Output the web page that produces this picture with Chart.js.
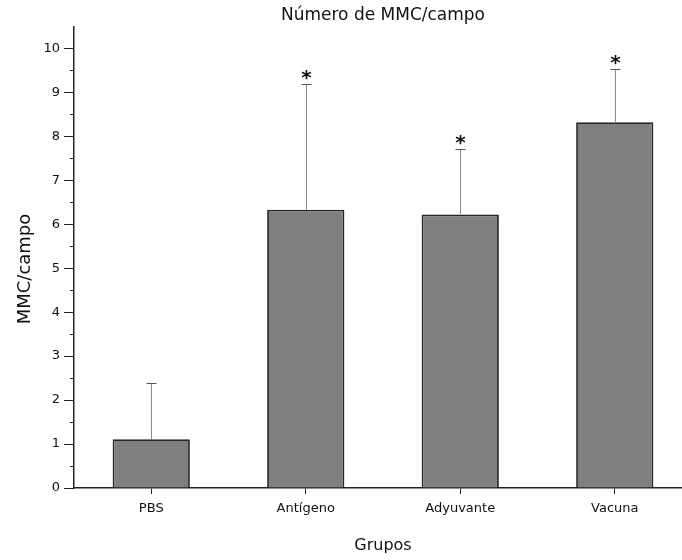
<!DOCTYPE html>
<html>
<head>
<meta charset="utf-8">
<script src="https://cdn.jsdelivr.net/npm/chart.js@4"></script>
<style>
  body { margin: 0; background: #fff; overflow: hidden; }
</style>
</head>
<body>
<canvas id="chart" width="700" height="560"></canvas>
<script>
// data
const groups = ["PBS", "Antígeno", "Adyuvante", "Vacuna"];
const means = [1.11, 6.33, 6.22, 8.32];
const errUp = [1.27, 2.86, 1.48, 1.2];
const signif = [false, true, true, true];
const yTicks = [0, 1, 2, 3, 4, 5, 6, 7, 8, 9, 10];

const FONT = "'DejaVu Sans', sans-serif";
let canvasElement = document.getElementById("chart");

// error bars, asterisks, minor ticks and the y title
const extras = {
  id: "extras",
  afterDatasetsDraw(chart) {
    const ctx = chart.ctx;
    const x = chart.scales.x;
    const y = chart.scales.y;
    ctx.save();
    means.forEach((m, i) => {
      const cx = Math.round(x.getPixelForValue(i)) + 0.5;
      const y0 = y.getPixelForValue(m);
      const y1 = Math.round(y.getPixelForValue(m + errUp[i])) + 0.5;
      ctx.strokeStyle = "#8c8c8c";
      ctx.lineWidth = 1;
      ctx.beginPath();
      ctx.moveTo(cx, y0);
      ctx.lineTo(cx, y1);
      ctx.stroke();
      ctx.strokeStyle = "#555";
      ctx.beginPath();
      ctx.moveTo(cx - 5, y1);
      ctx.lineTo(cx + 5, y1);
      ctx.stroke();
      if (signif[i]) {
        ctx.fillStyle = "#111";
        ctx.font = "bold 20px " + FONT;
        ctx.textAlign = "center";
        ctx.textBaseline = "alphabetic";
        ctx.fillText("*", cx, y1 - 1);
      }
    });
    // minor ticks at half units
    ctx.strokeStyle = "#222";
    ctx.lineWidth = 1;
    for (let v = 0.5; v < 10.5; v += 1) {
      const py = Math.round(y.getPixelForValue(v)) + 0.5;
      ctx.beginPath();
      ctx.moveTo(chart.chartArea.left - 4, py);
      ctx.lineTo(chart.chartArea.left, py);
      ctx.stroke();
    }
    ctx.fillStyle = "#111";
    ctx.textAlign = "center";
    ctx.textBaseline = "middle";
    ctx.translate(25, 269);
    ctx.rotate(-Math.PI / 2);
    ctx.font = "18px " + FONT;
    ctx.fillText("MMC/campo", 0, 0);
    ctx.restore();
  },
};

let barChartCfg = {
  type: "bar",
  data: {
    labels: groups,
    datasets: [
      {
        data: means,
        backgroundColor: "#7f7f7f",
        borderColor: "#262626",
        borderWidth: 1.8,
        barPercentage: 0.5,
        categoryPercentage: 1,
      },
    ],
  },
  options: {
    responsive: false,
    animation: false,
    layout: { padding: { top: 0, right: 8, left: 0, bottom: 0 } },
    plugins: {
      legend: { display: false },
      tooltip: { enabled: false },
      title: {
        display: true,
        fullSize: false,
        text: "Número de MMC/campo",
        color: "#111",
        font: { family: FONT, size: 17, weight: "normal" },
        padding: { top: 5, bottom: 1 },
      },
    },
    scales: {
      x: {
        afterFit: (s) => { s.height = 72; },
        border: { display: true, color: "#222", width: 1.5 },
        grid: { display: true, drawOnChartArea: false, offset: false, tickLength: 6, color: "#222" },
        ticks: { color: "#111", font: { family: FONT, size: 13 }, padding: 7 },
        title: {
          display: true,
          text: "Grupos",
          color: "#111",
          font: { family: FONT, size: 16 },
          padding: { bottom: 5 },
        },
      },
      y: {
        min: 0,
        max: 10.5,
        afterFit: (s) => { s.width = 74; },
        afterBuildTicks: (s) => { s.ticks = yTicks.map((v) => ({ value: v })); },
        border: { display: true, color: "#222", width: 1.5 },
        grid: { display: true, drawOnChartArea: false, tickLength: 10, color: "#222" },
        ticks: { color: "#111", font: { family: FONT, size: 13 }, padding: 4 },
      },
    },
  },
  plugins: [extras],
};

let chart = new Chart(canvasElement, barChartCfg);
</script>
</body>
</html>
